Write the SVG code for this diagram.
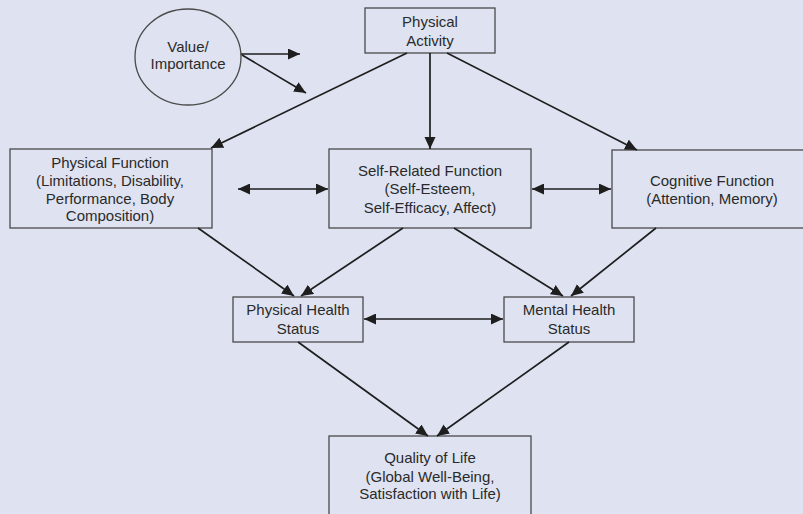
<svg xmlns="http://www.w3.org/2000/svg" width="803" height="514" viewBox="0 0 803 514">
<style>
.box{fill:none;stroke:#4a4a4a;stroke-width:1.3}
.t{font-family:"Liberation Sans",Arial,sans-serif;font-size:15px;fill:#2a2a2a;text-anchor:middle}
.c line{stroke:#1e1e1e;stroke-width:1.7}
.e{marker-end:url(#ah)}
.b{marker-start:url(#as);marker-end:url(#ah)}
</style>
<defs>
<marker id="ah" markerUnits="userSpaceOnUse" markerWidth="13" markerHeight="12" refX="12" refY="5.5" orient="auto">
<path d="M0,0 L12,5.5 L0,11 z" fill="#1e1e1e"/>
</marker>
<marker id="as" markerUnits="userSpaceOnUse" markerWidth="13" markerHeight="12" refX="0" refY="5.5" orient="auto">
<path d="M12,0 L0,5.5 L12,11 z" fill="#1e1e1e"/>
</marker>
</defs>
<rect width="803" height="514" fill="#dfe3f1"/>
<g id="value">
<ellipse cx="188" cy="57" rx="53" ry="48" class="box"/>
<text class="t" x="188" y="52">Value/</text>
<text class="t" x="188" y="69">Importance</text>
</g>
<g id="physical-activity">
<rect x="365" y="8" width="130" height="45" class="box"/>
<text class="t" x="430" y="27">Physical</text>
<text class="t" x="430" y="45.5">Activity</text>
</g>
<g id="physical-function">
<rect x="10" y="149" width="202" height="79" class="box"/>
<text class="t" x="110" y="168">Physical Function</text>
<text class="t" x="110" y="186">(Limitations, Disability,</text>
<text class="t" x="110" y="203.5">Performance, Body</text>
<text class="t" x="110" y="221">Composition)</text>
</g>
<g id="self-related">
<rect x="329" y="149" width="202" height="79" class="box"/>
<text class="t" x="430" y="176">Self-Related Function</text>
<text class="t" x="430" y="194">(Self-Esteem,</text>
<text class="t" x="430" y="212.5">Self-Efficacy, Affect)</text>
</g>
<g id="cognitive">
<rect x="612" y="150" width="200" height="78" class="box"/>
<text class="t" x="712" y="186">Cognitive Function</text>
<text class="t" x="712" y="204">(Attention, Memory)</text>
</g>
<g id="physical-health">
<rect x="233" y="297" width="130" height="45" class="box"/>
<text class="t" x="298" y="315">Physical Health</text>
<text class="t" x="298" y="334">Status</text>
</g>
<g id="mental-health">
<rect x="504" y="297" width="130" height="45" class="box"/>
<text class="t" x="569" y="315">Mental Health</text>
<text class="t" x="569" y="334">Status</text>
</g>
<g id="quality-of-life">
<rect x="329" y="436" width="202" height="90" class="box"/>
<text class="t" x="430" y="463">Quality of Life</text>
<text class="t" x="430" y="481.5">(Global Well-Being,</text>
<text class="t" x="430" y="499">Satisfaction with Life)</text>
</g>
<g class="c" id="connectors">
<line class="e" x1="241" y1="54" x2="300" y2="54"/>
<line class="e" x1="242" y1="55" x2="306" y2="93"/>
<line class="e" x1="407" y1="53" x2="211" y2="148"/>
<line class="e" x1="430" y1="53" x2="430" y2="149"/>
<line class="e" x1="447" y1="53" x2="637" y2="150"/>
<line class="b" x1="238" y1="189" x2="328" y2="189"/>
<line class="b" x1="532" y1="189" x2="611" y2="189"/>
<line class="e" x1="198" y1="228" x2="294" y2="296"/>
<line class="e" x1="403" y1="228" x2="301" y2="296"/>
<line class="e" x1="454" y1="228" x2="563" y2="296"/>
<line class="e" x1="656" y1="228" x2="571" y2="296"/>
<line class="b" x1="364" y1="319" x2="503" y2="319"/>
<line class="e" x1="298" y1="342" x2="428" y2="436"/>
<line class="e" x1="569" y1="342" x2="437" y2="436"/>
</g>
</svg>
